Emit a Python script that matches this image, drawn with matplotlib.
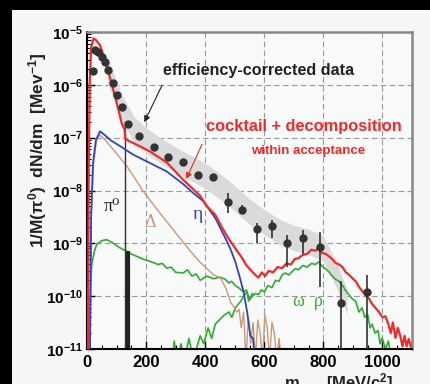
import numpy as np
import matplotlib
matplotlib.use("Agg")
import matplotlib.pyplot as plt
from matplotlib.patches import Rectangle
from matplotlib.ticker import FixedLocator, FuncFormatter, NullFormatter, MultipleLocator

plt.rcParams['font.family'] = ['Liberation Sans', 'DejaVu Sans']
plt.rcParams['mathtext.fontset'] = 'custom'
plt.rcParams['mathtext.rm'] = 'Liberation Sans:bold'
plt.rcParams['mathtext.bf'] = 'Liberation Sans:bold'
plt.rcParams['mathtext.it'] = 'Liberation Sans:bold:italic'
plt.rcParams['mathtext.default'] = 'bf'

# data points (mass in MeV/c^2, log10 of yield)
m_data = [19, 27, 38, 50, 61, 72, 87, 100, 117, 140, 177, 227, 275, 325, 377, 426,
          478, 526, 575, 625, 678, 730, 788, 861, 948]
lg_data = [-5.73, -5.34, -5.37, -5.47, -5.56, -5.72, -5.96, -6.19, -6.42, -6.74, -6.96,
           -7.17, -7.36, -7.47, -7.70, -7.74, -8.21, -8.36, -8.72, -8.68, -9.0, -8.90,
           -9.07, -10.13, -9.92]
# error bar sizes in decades (up / down), 99 = down to the axis
err_up = [0]*16 + [0.16, 0.09, 0.10, 0.13, 0.16, 0.16, 0.28, 0.42, 0.33]
err_dn = [0]*16 + [0.22, 0.09, 0.27, 0.22, 0.44, 0.31, 0.75, 99, 99]

# systematic band
band_m = [70, 120, 160, 200, 250, 300, 350, 400, 450, 500, 550, 600, 650, 700, 750, 800, 840, 880]
band_lg = [-5.75, -6.45, -6.85, -7.05, -7.25, -7.42, -7.57, -7.72, -7.92, -8.15, -8.4,
           -8.6, -8.78, -8.9, -8.97, -9.1, -9.55, -10.1]
band_hw = 0.24

# cocktail sum
red_m = [3, 6, 9, 14, 22, 30, 44, 61, 78, 95, 109, 117, 127, 130, 156, 213, 270, 326, 383,
         406, 434, 455, 478, 500, 524, 540, 558, 570, 580, 592, 603, 615, 630, 645, 660, 675,
         690, 703, 716, 730, 745, 760, 773, 785, 795, 808, 820, 830, 841, 853, 865, 876, 886,
         898, 910, 920, 931, 943, 955, 965, 976, 988, 1000, 1010, 1020, 1028, 1035, 1044,
         1052, 1060, 1068, 1075, 1082, 1089, 1096]
red_lg = [-11.2, -7.5, -6.0, -5.3, -5.12, -5.15, -5.25, -5.53, -5.87, -6.22, -6.53, -6.72,
          -6.85, -7.03, -7.1, -7.26, -7.47, -7.8, -8.1, -8.3, -8.46, -8.68, -8.9, -9.08,
          -9.27, -9.42, -9.53, -9.6, -9.65, -9.55, -9.62, -9.52, -9.55, -9.45, -9.47, -9.38,
          -9.4, -9.3, -9.28, -9.22, -9.2, -9.12, -9.14, -9.08, -9.18, -9.2, -9.25, -9.3,
          -9.37, -9.4, -9.45, -9.55, -9.59, -9.66, -9.72, -9.82, -9.9, -9.98, -10.05,
          -10.15, -10.22, -10.3, -10.4, -10.38, -10.53, -10.7, -10.5, -10.79, -10.6, -10.75,
          -10.95, -10.75, -10.95, -10.81, -10.95]

# eta
blue_m = [10, 14, 20, 30, 44, 60, 80, 112, 156, 213, 270, 326, 360, 393, 434, 468, 485,
          502, 515, 530, 542, 553, 562, 570]
blue_lg = [-11.2, -8.5, -7.5, -7.05, -6.88, -6.95, -7.05, -7.16, -7.32, -7.48, -7.64,
           -7.88, -8.05, -8.2, -8.52, -8.9, -9.1, -9.35, -9.6, -9.92, -10.3, -10.75, -10.8,
           -11.3]

# Delta
brown_m = [10, 14, 22, 32, 44, 61, 100, 135, 191, 250, 300, 350, 383, 427, 451, 470, 485,
           507, 515, 522, 530, 538, 546, 554, 562, 570, 578, 586, 594, 602, 610, 618, 626,
           634, 642, 650, 658]
brown_lg = [-11.2, -8.5, -7.5, -7.05, -6.95, -7.04, -7.3, -7.54, -8.02, -8.45, -8.8,
            -9.15, -9.36, -9.59, -9.65, -9.85, -10.1, -10.3, -10.25, -10.6, -10.3, -11.2,
            -10.4, -10.9, -10.5, -11.2, -10.45, -10.7, -11.2, -10.35, -10.6, -11.2, -10.5,
            -10.7, -11.2, -10.8, -11.2]

# rho / omega
green_m = [8, 10, 12, 16, 25, 33, 50, 67, 90, 110, 134, 150, 170, 190, 213, 240, 255, 270,
           285, 300, 326, 340, 355, 370, 383, 405, 428, 450, 468, 480, 490, 502, 513, 530,
           540, 547, 560, 570, 581, 590, 600, 612, 626, 638, 650, 660, 671, 683, 695, 705,
           716, 730, 745, 760, 773, 785, 795, 808, 820, 830, 841, 853, 865, 876, 886, 898,
           910, 920, 931, 940, 950, 958, 965, 975, 985, 992, 999, 1010, 1020, 1030]
green_lg = [-11.2, -10.5, -9.8, -9.4, -9.15, -9.02, -8.95, -8.93, -9.0, -9.08, -9.15, -9.2,
            -9.25, -9.3, -9.34, -9.4, -9.38, -9.47, -9.45, -9.55, -9.56, -9.5, -9.62, -9.58,
            -9.7, -9.62, -9.67, -9.64, -9.68, -9.75, -9.72, -9.8, -9.84, -9.92, -9.88,
            -10.09, -10.0, -9.95, -9.97, -9.88, -9.92, -9.8, -9.84, -9.7, -9.72, -9.6,
            -9.56, -9.6, -9.53, -9.48, -9.5, -9.42, -9.45, -9.38, -9.4, -9.35, -9.43,
            -9.48, -9.55, -9.62, -9.68, -9.72, -9.8, -9.9, -9.97, -10.05, -10.1, -10.3,
            -10.22, -10.4, -10.35, -10.6, -10.53, -10.7, -10.65, -10.9, -10.79, -11.0,
            -10.85, -11.2]
green2_m = [290, 295, 305, 318, 330, 345, 360, 383, 395, 410, 422, 434, 448, 462, 480,
            490, 502, 512, 520, 530, 541, 550, 560]
green2_lg = [-11.2, -10.85, -11.2, -10.9, -11.2, -10.8, -11.2, -10.75, -10.9, -10.6, -10.8,
             -10.53, -10.45, -10.37, -10.3, -10.4, -10.22, -10.15, -10.1, -10.0, -9.92,
             -10.05, -9.95]

# pi0 edge and bin
pi0_m = [130, 130]
pi0_lg = [-6.7, -11.2]
pi0bin_m = 138
pi0bin_lg = -9.15


def lin(a):
    return 10.0**np.asarray(a, dtype=float)


fig = plt.figure(figsize=(4.30, 3.84), dpi=100, facecolor='black')
fig.patches.append(Rectangle((12/430, 0), 1, 1 - 10/384, transform=fig.transFigure,
                             facecolor='#f5f7f7', edgecolor='none', zorder=-10))
ax = fig.add_axes([87/430, 1 - 349/384, (412-87)/430, (349-32)/384])
ax.set_facecolor('#f8f9f9')
ax.set_yscale('log')
ax.set_xlim(0, 1100)
ax.set_ylim(1e-11, 1e-5)

bm = np.array(band_m)
bl = np.array(band_lg)
ax.fill_between(bm, lin(bl - band_hw), lin(bl + band_hw), color='#dadada', lw=0, zorder=1)

ax.plot(green2_m, lin(green2_lg), color='#33aa33', lw=1.2, zorder=2)
ax.plot(green_m, lin(green_lg), color='#33aa33', lw=1.2, zorder=2)
ax.plot(brown_m, lin(brown_lg), color='#c89a7a', lw=1.0, zorder=2)
ax.plot(blue_m, lin(blue_lg), color='#3344bb', lw=1.3, zorder=3)
ax.plot(pi0_m, lin(pi0_lg), color='#333333', lw=1.0, zorder=2)
ax.vlines(pi0bin_m, 1e-12, lin(pi0bin_lg), color='#222222', lw=3, zorder=2)
ax.plot(red_m, lin(red_lg), color='#ee2a2a', lw=1.6, zorder=4)

y = lin(lg_data)
up = lin(np.array(lg_data) + np.array(err_up)) - y
dn = y - np.maximum(lin(np.array(lg_data) - np.array(err_dn)), 1e-12)
ax.errorbar(m_data, y, yerr=[dn, up], fmt='o', color='#333333', ms=5, lw=1.2,
            capsize=0, zorder=5)

ax.grid(True, which='major', color='#999999', ls=(0, (5, 3)), lw=0.8)
ax.set_axisbelow(True)
ax.xaxis.set_major_locator(MultipleLocator(200))
ax.xaxis.set_minor_locator(MultipleLocator(50))
ax.yaxis.set_major_locator(FixedLocator([1e-11, 1e-10, 1e-9, 1e-8, 1e-7, 1e-6, 1e-5]))
ax.yaxis.set_major_formatter(FuncFormatter(lambda v, p: r'$\mathbf{10^{%d}}$' % round(np.log10(v))))
ax.yaxis.set_minor_formatter(NullFormatter())
ax.tick_params(which='both', direction='in', top=False, right=False)
ax.tick_params(which='major', length=6, width=1)
ax.tick_params(which='minor', length=3, width=0.8)
ax.tick_params(axis='x', labelsize=12, pad=4)
ax.tick_params(axis='y', labelsize=11, pad=3)
for lab in ax.get_xticklabels():
    lab.set_fontweight('bold')
for s in ['left', 'bottom']:
    ax.spines[s].set_color('black')
    ax.spines[s].set_linewidth(1.5)
for s in ['top', 'right']:
    ax.spines[s].set_color('#888888')
    ax.spines[s].set_linewidth(1.8)

ax.text(258, 10**-5.736, 'efficiency-corrected data', fontsize=11.6, fontweight='bold',
        color='#222222', ha='left', va='center')
ax.annotate('', xy=(190, 10**-6.755), xytext=(258, 10**-5.96),
            arrowprops=dict(arrowstyle='-|>', color='#222222', lw=0.8, mutation_scale=9))
ax.text(403, 10**-6.79, 'cocktail + decomposition', fontsize=11.8, fontweight='bold',
        color='#ee2a2a', ha='left', va='center')
ax.text(747, 10**-7.26, 'within acceptance', fontsize=9.5, fontweight='bold',
        color='#ee2a2a', ha='center', va='center')
ax.annotate('', xy=(332, 10**-7.83), xytext=(393, 10**-7.08),
            arrowprops=dict(arrowstyle='-|>', color='#ee2a2a', lw=0.8, mutation_scale=9))

serif = ['Liberation Serif', 'DejaVu Serif']
ax.text(85, 10**-8.3, 'π⁰', fontsize=13, family=serif, color='#222222', ha='center', va='center')
ax.text(214, 10**-8.6, 'Δ', fontsize=13, family=serif, color='#c89a7a', ha='center', va='center')
ax.text(376, 10**-8.45, 'η', fontsize=14, family=serif, color='#3344bb', ha='center', va='center')
ax.text(749, 10**-10.1, 'ω  ρ', fontsize=13, family=serif, color='#33aa33', ha='center', va='center')

fig.text(38/430, 1 - 150/384, r'1/M($\pi^0$)  dN/dm  [Mev$^{-1}$]', rotation=90,
         fontsize=12.5, fontweight='bold', ha='center', va='center', color='#222222')
fig.text(284/430, -4/384, r'm$_{ee}$   [MeV/c$^2$]', fontsize=12, fontweight='bold',
         ha='left', va='baseline', color='#222222')

fig.savefig('out.png', dpi=100, facecolor=fig.get_facecolor())
